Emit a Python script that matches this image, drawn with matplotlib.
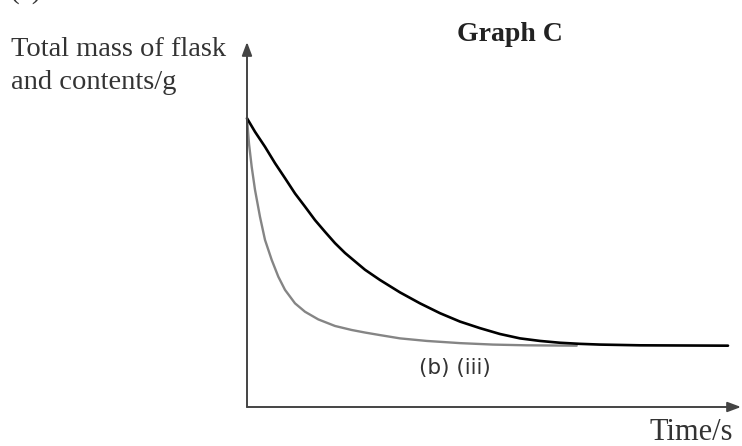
import matplotlib
matplotlib.use("Agg")
from matplotlib import pyplot as plt

# taille de la figure en pixels
W, H = 742, 446

# valeurs (unites arbitraires, axes de 0 a 100)
t_slow = [0, 1.62, 3.64, 5.67, 7.69, 9.72, 11.74, 13.77, 15.79, 17.81, 19.84, 21.86, 23.89,
          26.92, 30.97, 35.02, 39.07, 43.12, 47.17, 51.21, 55.26, 59.31, 63.36, 67.41, 71.46, 79.55, 97.37]
m_slow = [79.1, 75.4, 71.3, 66.8, 62.7, 58.5, 54.9, 51.2, 48.0, 44.9, 42.2, 39.9, 37.6,
          34.8, 31.4, 28.4, 25.7, 23.4, 21.6, 20.0, 18.8, 18.1, 17.6, 17.3, 17.1, 16.9, 16.8]

t_fast = [0, 0.40, 0.95, 1.62, 2.63, 3.64, 5.00, 6.34, 7.69, 9.72, 11.74, 14.43, 17.81, 21.19,
          23.89, 26.92, 30.97, 36.38, 43.12, 49.80, 56.62, 66.74]
m_fast = [79.1, 72.2, 65.8, 59.5, 52.1, 45.8, 40.3, 35.7, 32.1, 28.4, 26.1, 24.0, 22.2, 21.1,
          20.4, 19.7, 18.8, 18.1, 17.5, 17.1, 16.9, 16.8]

titre = "Graph C"
label_y = ["Total mass of flask", "and contents/g"]
label_x = "Time/s"
label_courbe = "(b) (iii)"

plt.rcParams['font.family'] = ['Liberation Serif', 'DejaVu Serif']

fig = plt.figure(figsize=(W / 100, H / 100), dpi=100)
# origine au pixel (247, 407), fleches a x=741 et y=42
ax = fig.add_axes([247 / W, (H - 407) / H, (741 - 247) / W, (407 - 42) / H])
ax.set_xlim(0, 100)
ax.set_ylim(0, 100)
ax.axis('off')

# axes avec fleches
fleche = dict(arrowstyle='-|>,head_length=0.8,head_width=0.3', color='#444444', lw=1.4,
              shrinkA=0, shrinkB=0)
ax.annotate("", xy=(100, 0), xytext=(0, 0), arrowprops=fleche, annotation_clip=False)
ax.annotate("", xy=(0, 100), xytext=(0, 0), arrowprops=fleche, annotation_clip=False)

ax.plot(t_fast, m_fast, color='#858585', lw=1.7, solid_capstyle='round', solid_joinstyle='round',
        clip_on=False)
ax.plot(t_slow, m_slow, color='black', lw=1.9, solid_capstyle='round', solid_joinstyle='round',
        clip_on=False)

# textes
fig.text(11 / W, 1 - 56 / H, label_y[0], ha='left', va='baseline', fontsize=20.5, color='#333333')
fig.text(11 / W, 1 - 89 / H, label_y[1], ha='left', va='baseline', fontsize=20.5, color='#333333')
fig.text(510 / W, 1 - 41 / H, titre, ha='center', va='baseline', fontsize=20, fontweight='bold',
         color='#222222')
fig.text(455 / W, 1 - 368 / H, label_courbe, ha='center', va='center', fontsize=15.5, color='#333333',
         family=['DejaVu Sans'])
fig.text(733 / W, 1 - 440 / H, label_x, ha='right', va='baseline', fontsize=22, color='#333333')
fig.text(10 / W, 1 - 4 / H, "(a)", ha='left', va='bottom', fontsize=21, color='#333333')

fig.savefig("out.png", dpi=100)
